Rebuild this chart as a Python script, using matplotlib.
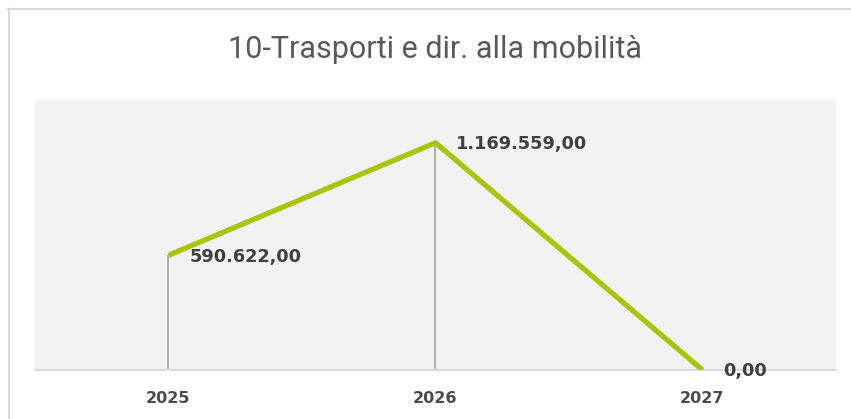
import matplotlib.pyplot as plt
from matplotlib.lines import Line2D

years = ['2025', '2026', '2027']
values = [590622.00, 1169559.00, 0.00]
labels = ['590.622,00', '1.169.559,00', '0,00']

W, H = 851, 419
fig = plt.figure(figsize=(W / 100, H / 100), dpi=100)
fig.patch.set_facecolor('white')

# card border (top and left)
fig.add_artist(Line2D([8 / W, 1], [1 - 9.5 / H, 1 - 9.5 / H], color='#D9D9D9', lw=1.5))
fig.add_artist(Line2D([9 / W, 9 / W], [0, 1 - 9.5 / H], color='#D9D9D9', lw=1.5))

ax = fig.add_axes([35 / W, (H - 370) / H, (836 - 35) / W, (370 - 100) / H])
ax.set_facecolor('#F2F2F2')

x = list(range(len(years)))
ax.vlines(x, 0, values, color='#A6A6A6', lw=1.3, zorder=2)
ax.plot(x, values, color='#ADC20C', lw=3.8, solid_capstyle='butt', zorder=3)

for xi, v, lab in zip(x, values, labels):
    ax.annotate(lab, (xi, v), xytext=(15, -1), textcoords='offset points',
                ha='left', va='center', fontsize=12.8, fontweight='bold',
                color='#404040', zorder=4)

ax.set_xlim(-0.5, 2.5)
ax.set_ylim(0, 1.39e6)
ax.set_xticks(x)
ax.set_xticklabels(years, fontsize=11.5, fontweight='bold', color='#4A4A4A')
ax.tick_params(axis='x', length=0, pad=15)
ax.set_yticks([])
for s in ['top', 'right', 'left']:
    ax.spines[s].set_visible(False)
ax.spines['bottom'].set_color('#D9D9D9')
ax.spines['bottom'].set_linewidth(1.5)

fig.text(435 / W, 1 - 49 / H, '10-Trasporti e dir. alla mobilità', ha='center', va='center',
         fontsize=22, color='#595959', family='Roboto')

fig.savefig('out.png', dpi=100)
